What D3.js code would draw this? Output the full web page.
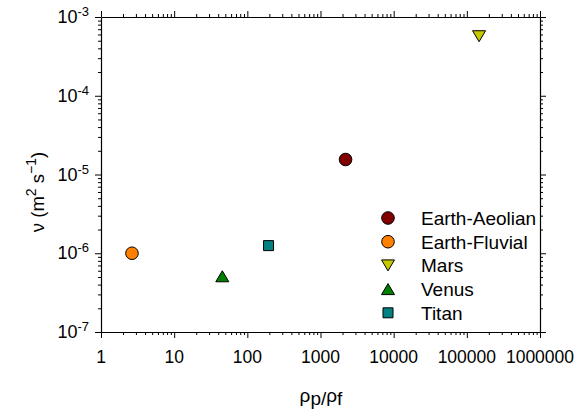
<!DOCTYPE html>
<html>
<head>
<meta charset="utf-8">
<script src="https://cdn.jsdelivr.net/npm/d3@7"></script>
<style>
  body { margin: 0; background: #fff; }
  text { font-family: "Liberation Sans", Arial, sans-serif; fill: #000; }
</style>
</head>
<body>
<div id="chart"></div>
<script>
// data
var names = ["Earth-Aeolian", "Earth-Fluvial", "Mars", "Venus", "Titan"];
var densityRatio = [2200, 2.65, 147000, 45.5, 195];
var viscosity = [1.55e-5, 1.0e-6, 5.7e-4, 5.1e-7, 1.25e-6];
var xTicks = [1, 10, 100, 1000, 10000, 100000, 1000000];
var yExponents = [-7, -6, -5, -4, -3];

var shapes = ["circle", "circle", "triangleDown", "triangleUp", "square"];
var colors = ["#800000", "#ff8000", "#c8c800", "#008000", "#008080"];

var svgWidth = 585;
var svgHeight = 412;
var margin = { top: 17, right: 45, bottom: 80, left: 101 };
var width = svgWidth - margin.left - margin.right;
var height = svgHeight - margin.top - margin.bottom;

var svg = d3.select("#chart")
  .append("svg")
  .attr("width", svgWidth)
  .attr("height", svgHeight);

var chartGroup = svg.append("g")
  .attr("transform", `translate(${margin.left}, ${margin.top})`);

var xScale = d3.scaleLog().domain([1, 1e6]).range([0, width]);
var yScale = d3.scaleLog().domain([1e-7, 1e-3]).range([height, 0]);

// minor ticks 2..9 in each decade
function minors(lo, hi) {
  var out = [];
  for (var e = lo; e < hi; e++) {
    for (var k = 2; k <= 9; k++) out.push(k * Math.pow(10, e));
  }
  return out;
}
var xMinor = minors(0, 6);
var yMinor = minors(-7, -3);
var yMajor = yExponents.map(e => Math.pow(10, e));

function drawAxis(axisFn, scale, major, minor, transform) {
  var gMaj = chartGroup.append("g").attr("transform", transform)
    .call(axisFn(scale).tickValues(major).tickSize(6).tickSizeOuter(0).tickFormat(""));
  var gMin = chartGroup.append("g").attr("transform", transform)
    .call(axisFn(scale).tickValues(minor).tickSize(3).tickSizeOuter(0).tickFormat(""));
  gMin.select(".domain").remove();
  [gMaj, gMin].forEach(function(g) {
    g.selectAll("line").attr("stroke", "#000").attr("stroke-width", 1);
    g.select(".domain").attr("stroke", "#000").attr("stroke-width", 1.2);
  });
}

drawAxis(d3.axisBottom, xScale, xTicks, xMinor, `translate(0, ${height})`);
drawAxis(d3.axisTop, xScale, xTicks, xMinor, "translate(0, 0)");
drawAxis(d3.axisLeft, yScale, yMajor, yMinor, "translate(0, 0)");
drawAxis(d3.axisRight, yScale, yMajor, yMinor, `translate(${width}, 0)`);

// x tick labels
chartGroup.selectAll(".xlab")
  .data(xTicks)
  .enter()
  .append("text")
  .attr("x", d => xScale(d))
  .attr("y", height + 31)
  .attr("text-anchor", "middle")
  .attr("font-size", 17.5)
  .text(d => String(d));

// y tick labels with superscript exponents
var yLabs = chartGroup.selectAll(".ylab")
  .data(yExponents)
  .enter()
  .append("text")
  .attr("x", -12)
  .attr("y", d => yScale(Math.pow(10, d)) + 6)
  .attr("text-anchor", "end")
  .attr("font-size", 18);
yLabs.append("tspan").text("10");
yLabs.append("tspan").attr("dy", -7).attr("font-size", 13).text(d => String(d));

// axis titles
var yTitle = svg.append("text")
  .attr("transform", `translate(44, 192) rotate(-90)`)
  .attr("text-anchor", "middle")
  .attr("font-size", 18.5);
yTitle.append("tspan").text("\u03bd (m");
yTitle.append("tspan").attr("dy", -8).attr("font-size", 14).text("2");
yTitle.append("tspan").attr("dy", 8).text(" s");
yTitle.append("tspan").attr("dy", -8).attr("font-size", 14).text("\u22121");
yTitle.append("tspan").attr("dy", 8).text(")");

var xTitle = svg.append("text")
  .attr("x", 321)
  .attr("y", 405)
  .attr("text-anchor", "middle")
  .attr("font-size", 19);
xTitle.append("tspan").attr("dy", -3).text("\u03c1");
xTitle.append("tspan").attr("dy", 3).text("p/");
xTitle.append("tspan").attr("dy", -3).text("\u03c1");
xTitle.append("tspan").attr("dy", 3).text("f");

// marker shapes, centred on their box
function markerPath(shape) {
  if (shape === "circle") {
    var r = 6.3;
    return `M${-r},0A${r},${r} 0 1,0 ${r},0A${r},${r} 0 1,0 ${-r},0Z`;
  }
  if (shape === "square") return "M-5,-5H5V5H-5Z";
  if (shape === "triangleUp") return "M0,-5.5L6.5,5.5H-6.5Z";
  return "M0,5.5L6.5,-5.5H-6.5Z";
}

var points = names.map((n, i) => ({
  name: n, x: densityRatio[i], y: viscosity[i], shape: shapes[i], color: colors[i]
}));

chartGroup.selectAll(".pt")
  .data(points)
  .enter()
  .append("path")
  .attr("transform", d => `translate(${xScale(d.x)}, ${yScale(d.y)})`)
  .attr("d", d => markerPath(d.shape))
  .attr("fill", d => d.color)
  .attr("stroke", "#000")
  .attr("stroke-width", 1);

// legend
var legend = svg.append("g").attr("transform", "translate(388, 218)");
var rows = legend.selectAll("g")
  .data(points)
  .enter()
  .append("g")
  .attr("transform", (d, i) => `translate(0, ${i * 23.7})`);
rows.append("path")
  .attr("d", d => markerPath(d.shape))
  .attr("fill", d => d.color)
  .attr("stroke", "#000")
  .attr("stroke-width", 1);
rows.append("text")
  .attr("x", 33)
  .attr("y", 7)
  .attr("font-size", 19)
  .text(d => d.name);
</script>
</body>
</html>
